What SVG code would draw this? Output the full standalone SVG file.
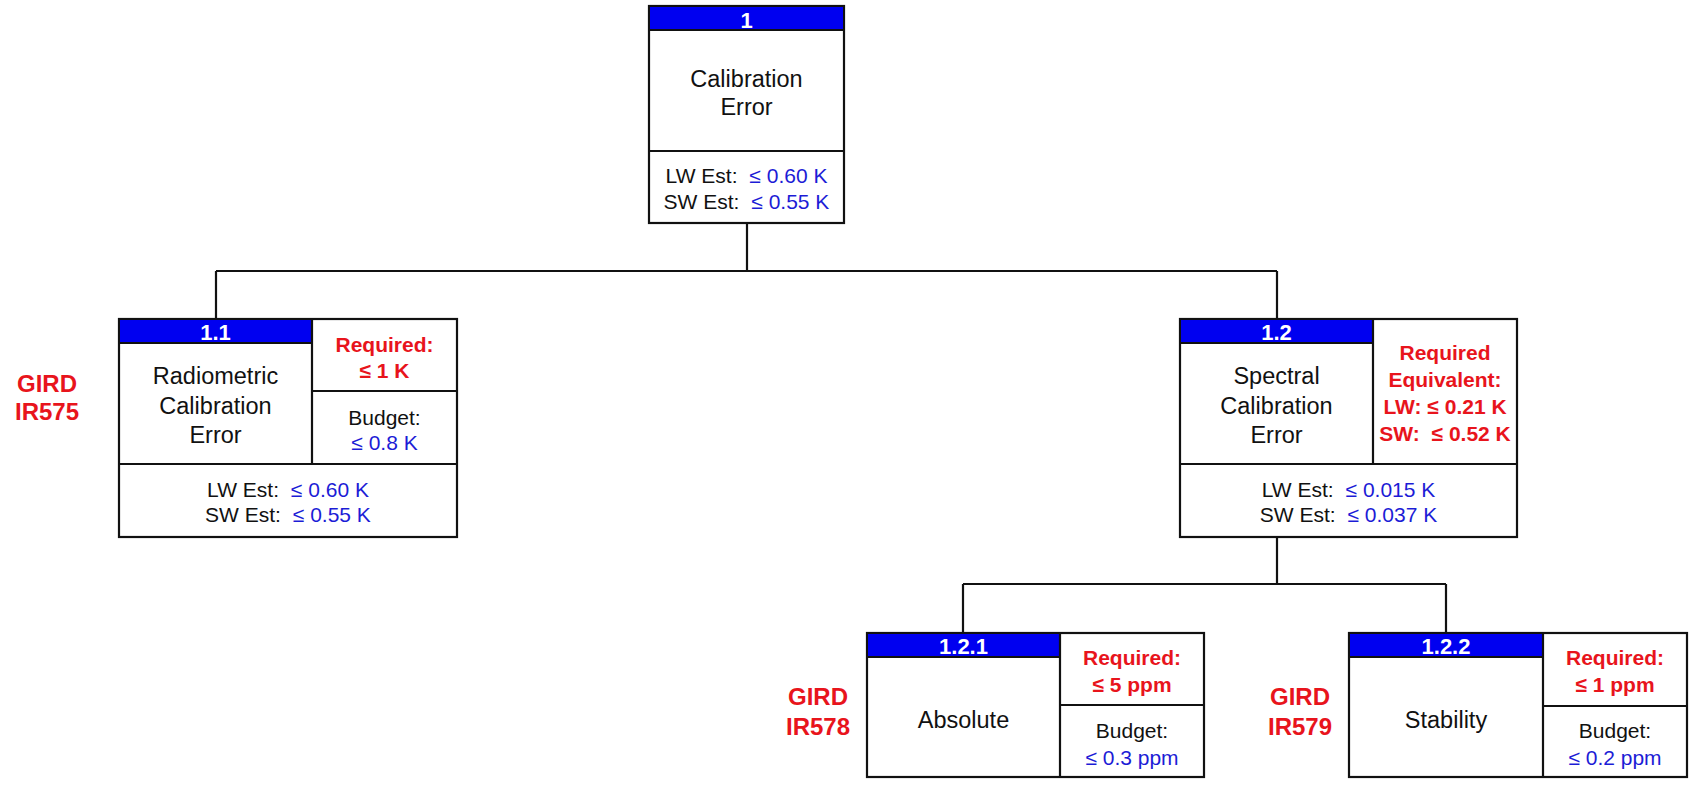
<svg xmlns="http://www.w3.org/2000/svg" width="1690" height="785" viewBox="0 0 1690 785">
<style>
text{font-family:"Liberation Sans",Arial,Helvetica,sans-serif;text-anchor:middle}
.box{fill:#fff;stroke:#111;stroke-width:2.2}
.ln{stroke:#111;stroke-width:2.2;fill:none}
.bar{fill:#0000f0}
.num{fill:#fff;font-weight:bold;font-size:22px}
.title{fill:#111;font-size:23.5px}
.est{fill:#111;font-size:21px}
.req{fill:#e8141c;font-weight:bold;font-size:21px}
.bud{fill:#111;font-size:21px}
.gird{fill:#e8141c;font-weight:bold;font-size:24px}
.blue{fill:#1c1cd6}
</style>
<g id="connectors">
<path class="ln" d="M747 223V271M216 271H1277M216 271V319M1277 271V319"/>
<path class="ln" d="M1277 537V584M963 584H1446M963 584V633M1446 584V633"/>
</g>
<g id="node-1">
<rect class="box" x="649" y="6" width="195" height="217"/>
<rect class="bar" x="650" y="7" width="193" height="23"/>
<path class="ln" d="M649 30H844M649 151H844"/>
<text class="num" x="746.5" y="28">1</text>
<text class="title" x="746.5" y="87">Calibration</text>
<text class="title" x="746.5" y="115">Error</text>
<text class="est" x="746.5" y="183">LW Est: <tspan class="blue" dx="6">≤ 0.60 K</tspan></text>
<text class="est" x="746.5" y="209">SW Est: <tspan class="blue" dx="6">≤ 0.55 K</tspan></text>
</g>
<g id="node-1-1">
<rect class="box" x="119" y="319" width="338" height="218"/>
<rect class="bar" x="120" y="320" width="192" height="23"/>
<path class="ln" d="M119 343H312M312 319V464M312 391H457M119 464H457"/>
<text class="num" x="215.5" y="340">1.1</text>
<text class="title" x="215.5" y="384">Radiometric</text>
<text class="title" x="215.5" y="414">Calibration</text>
<text class="title" x="215.5" y="443">Error</text>
<text class="req" x="384.5" y="352">Required:</text>
<text class="req" x="384.5" y="378">≤ 1 K</text>
<text class="bud" x="384.5" y="425">Budget:</text>
<text class="bud blue" x="384.5" y="450">≤ 0.8 K</text>
<text class="est" x="288" y="497">LW Est: <tspan class="blue" dx="6">≤ 0.60 K</tspan></text>
<text class="est" x="288" y="522">SW Est: <tspan class="blue" dx="6">≤ 0.55 K</tspan></text>
<text class="gird" x="47" y="392">GIRD</text>
<text class="gird" x="47" y="420">IR575</text>
</g>
<g id="node-1-2">
<rect class="box" x="1180" y="319" width="337" height="218"/>
<rect class="bar" x="1181" y="320" width="192" height="23"/>
<path class="ln" d="M1180 343H1373M1373 319V464M1180 464H1517"/>
<text class="num" x="1276.5" y="340">1.2</text>
<text class="title" x="1276.5" y="384">Spectral</text>
<text class="title" x="1276.5" y="414">Calibration</text>
<text class="title" x="1276.5" y="443">Error</text>
<text class="req" x="1445" y="360">Required</text>
<text class="req" x="1445" y="387">Equivalent:</text>
<text class="req" x="1445" y="414">LW: ≤ 0.21 K</text>
<text class="req" x="1445" y="441">SW: <tspan dx="6">≤ 0.52 K</tspan></text>
<text class="est" x="1348.5" y="497">LW Est: <tspan class="blue" dx="6">≤ 0.015 K</tspan></text>
<text class="est" x="1348.5" y="522">SW Est: <tspan class="blue" dx="6">≤ 0.037 K</tspan></text>
</g>
<g id="node-1-2-1">
<rect class="box" x="867" y="633" width="337" height="144"/>
<rect class="bar" x="868" y="634" width="192" height="23"/>
<path class="ln" d="M867 657H1060M1060 633V777M1060 705H1204"/>
<text class="num" x="963.5" y="654">1.2.1</text>
<text class="title" x="963.5" y="728">Absolute</text>
<text class="req" x="1132" y="665">Required:</text>
<text class="req" x="1132" y="692">≤ 5 ppm</text>
<text class="bud" x="1132" y="738">Budget:</text>
<text class="bud blue" x="1132" y="765">≤ 0.3 ppm</text>
<text class="gird" x="818" y="705">GIRD</text>
<text class="gird" x="818" y="735">IR578</text>
</g>
<g id="node-1-2-2">
<rect class="box" x="1349" y="633" width="338" height="144"/>
<rect class="bar" x="1350" y="634" width="193" height="23"/>
<path class="ln" d="M1349 657H1543M1543 633V777M1543 706H1687"/>
<text class="num" x="1446" y="654">1.2.2</text>
<text class="title" x="1446" y="728">Stability</text>
<text class="req" x="1615" y="665">Required:</text>
<text class="req" x="1615" y="692">≤ 1 ppm</text>
<text class="bud" x="1615" y="738">Budget:</text>
<text class="bud blue" x="1615" y="765">≤ 0.2 ppm</text>
<text class="gird" x="1300" y="705">GIRD</text>
<text class="gird" x="1300" y="735">IR579</text>
</g>
</svg>
